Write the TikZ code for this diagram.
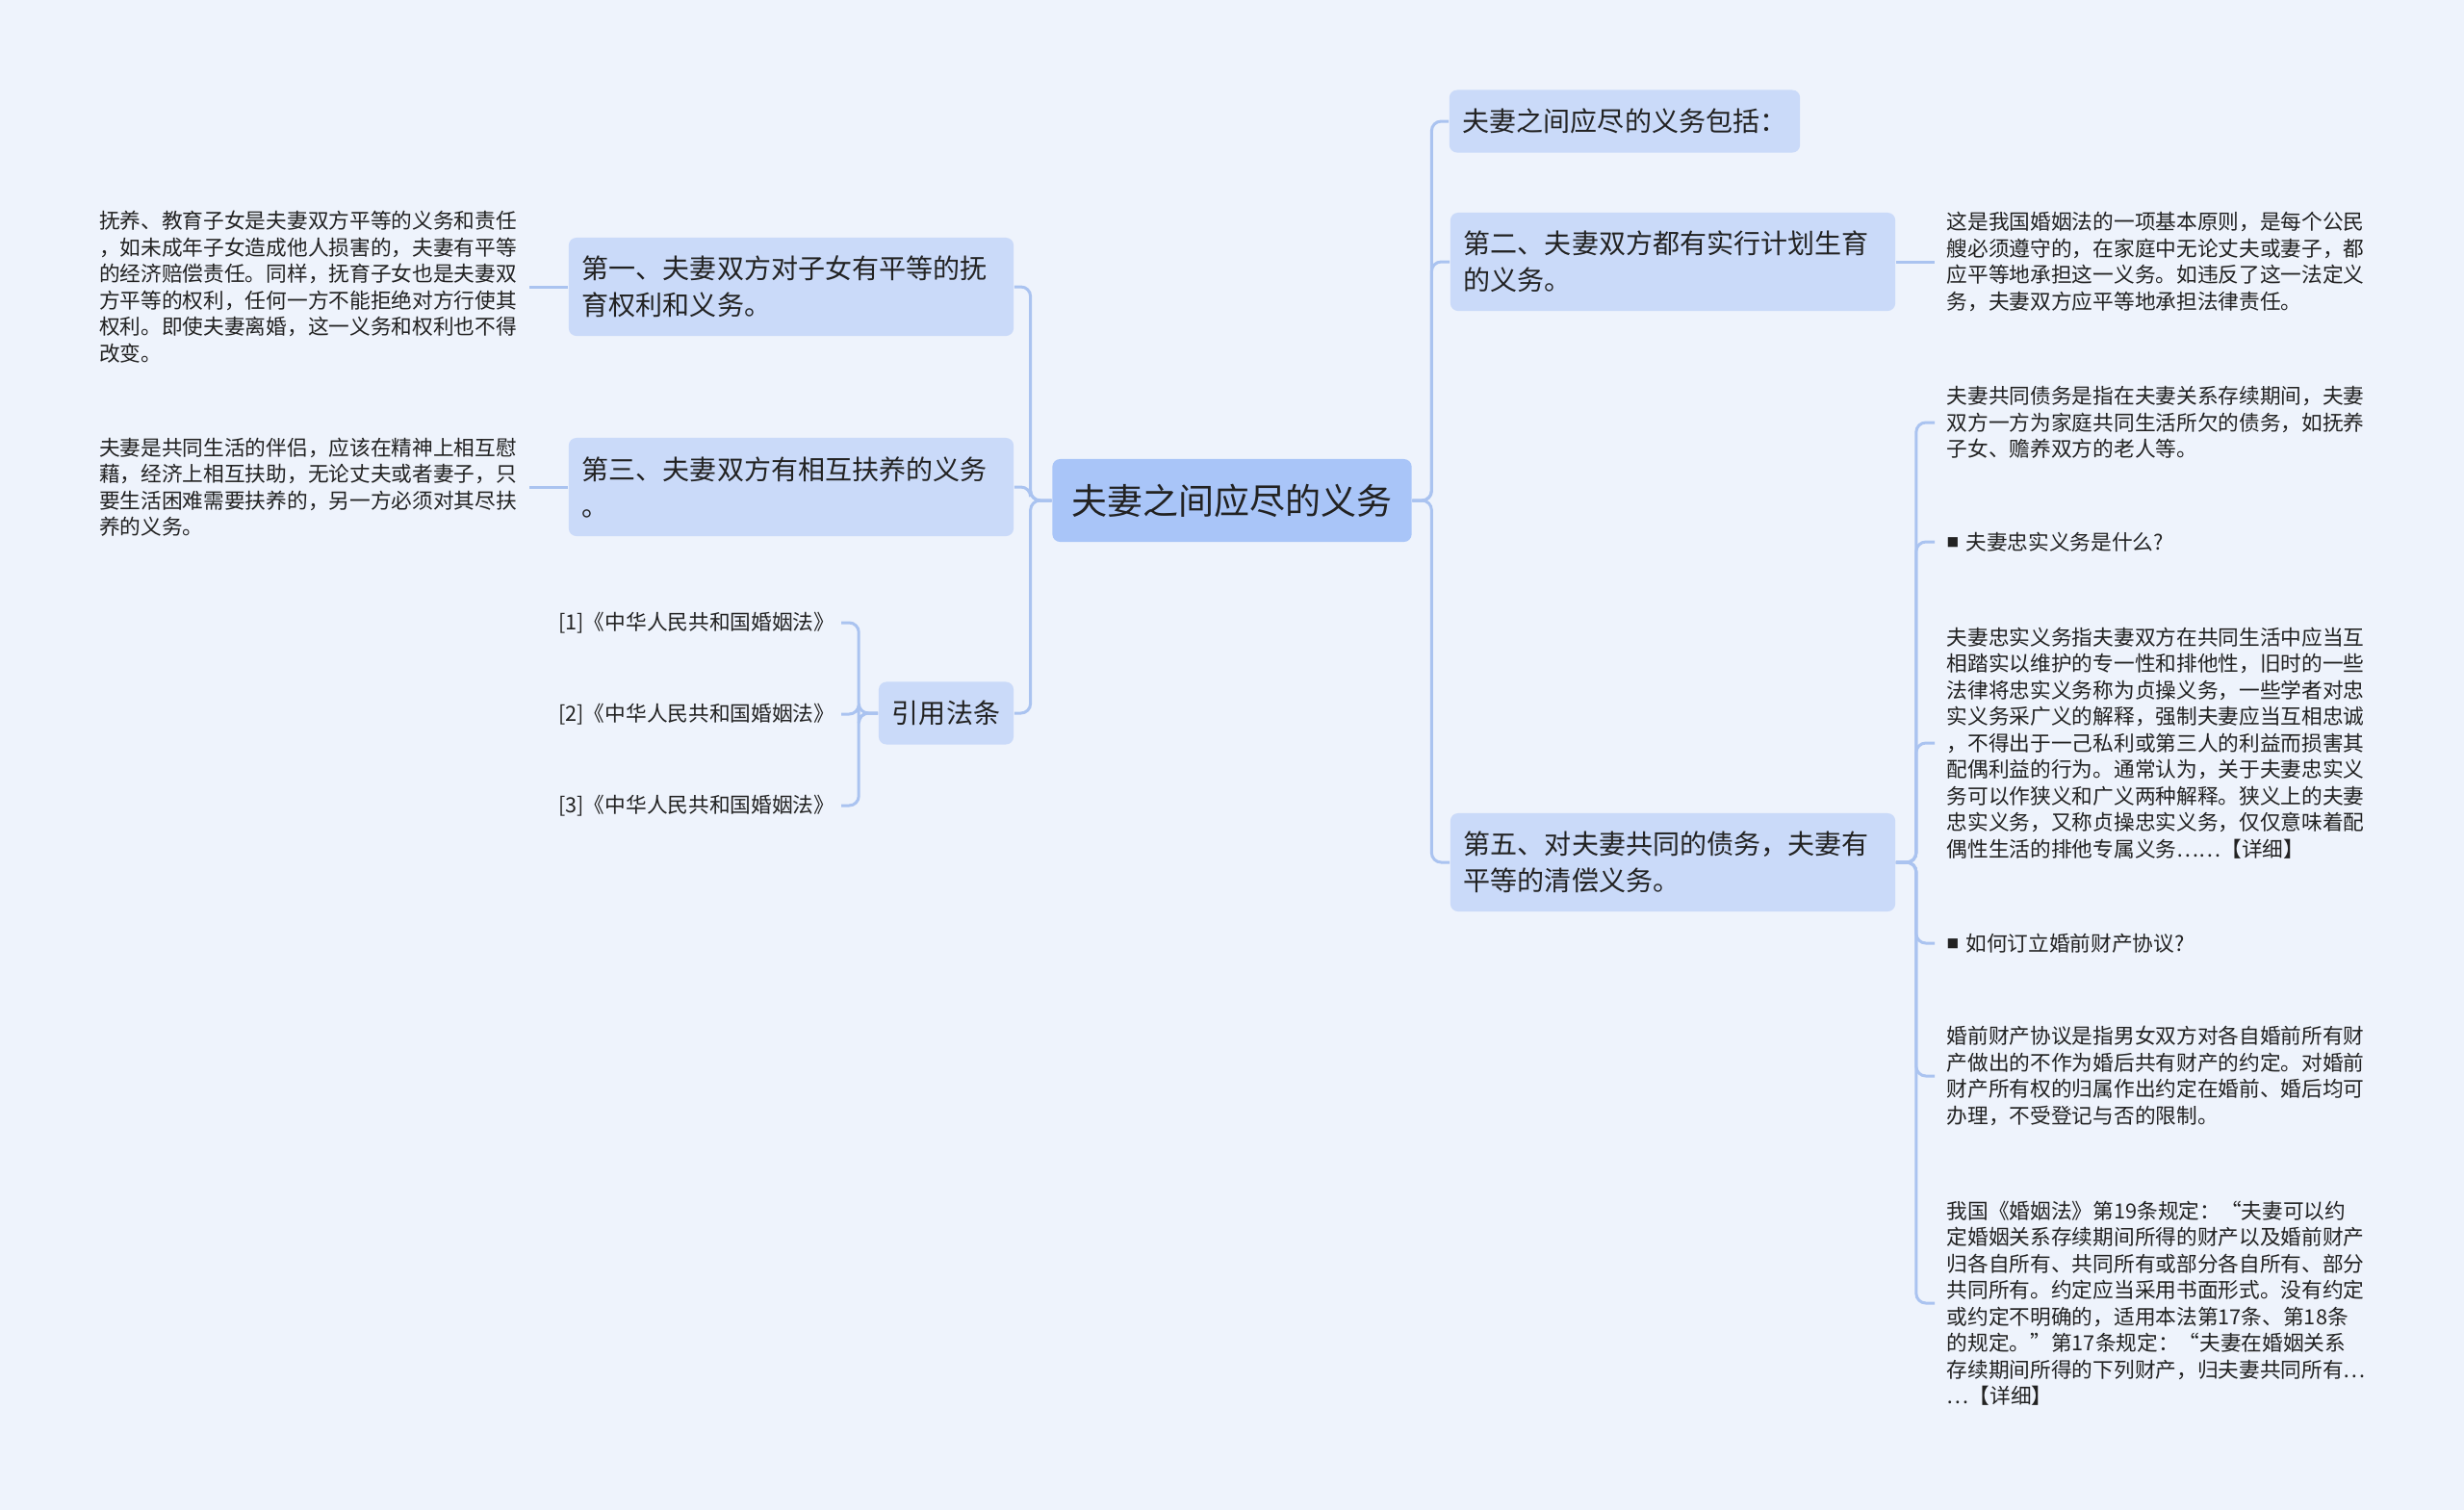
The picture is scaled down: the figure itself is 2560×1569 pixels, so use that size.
\documentclass[tikz,border=0pt]{standalone}
\usepackage{fontspec}
\setmainfont{Noto Sans CJK SC}

\definecolor{bgcol}{RGB}{238,243,252}
\definecolor{rootcol}{RGB}{169,197,248}
\definecolor{topiccol}{RGB}{202,218,249}
\definecolor{linkcol}{RGB}{170,195,240}
\definecolor{inkcol}{RGB}{34,34,34}

\newcommand{\leaffont}{\fontsize{6.17pt}{7.82pt}\selectfont}
\newcommand{\topicfont}{\fontsize{7.97pt}{10.81pt}\selectfont}
\newcommand{\bul}{\raisebox{0.03cm}{\fontsize{3.6pt}{4pt}\selectfont ■}\hspace{0.07cm}}

\tikzset{
    root/.style={fill=rootcol, rounded corners=0.08cm, inner xsep=0.2cm,
        minimum height=0.86cm, text=inkcol, font=\fontsize{10.53pt}{12pt}\selectfont},
    topic/.style={fill=topiccol, rounded corners=0.08cm, inner xsep=0.14cm,
        minimum height=0.65cm, text=inkcol, font=\topicfont},
    wide/.style={topic, text width=4.34cm, align=left, minimum height=1.02cm},
    leaf/.style={text=inkcol, font=\leaffont, inner xsep=0.12cm, inner ysep=0pt, align=left},
    para/.style={leaf, text width=4.34cm},
    link/.style={draw=linkcol, line width=0.03cm, rounded corners=0.1cm},
}

\begin{document}
\begin{tikzpicture}[x=0.01cm,y=-0.01cm]
    \fill[bgcol] (0,0) rectangle (2560,1569);

    \node[root] (root) at (1280,520) {夫妻之间应尽的义务};

    % left side
    \node[wide] (n1) at (822,298) {第一、夫妻双方对子女有平等的抚\\育权利和义务。};
    \node[wide] (n3) at (822,506) {第三、夫妻双方有相互扶养的义务\\。};
    \node[topic] (cite) at (983,741) {引用法条};
    \node[leaf, anchor=east, inner xsep=0.06cm] (r1) at (874,647) {[1]《中华人民共和国婚姻法》};
    \node[leaf, anchor=east, inner xsep=0.06cm] (r2) at (874,742) {[2]《中华人民共和国婚姻法》};
    \node[leaf, anchor=east, inner xsep=0.06cm] (r3) at (874,837) {[3]《中华人民共和国婚姻法》};
    \node[para, anchor=east] (t1) at (550,298) {抚养、教育子女是夫妻双方平等的义务和责任\\，如未成年子女造成他人损害的，夫妻有平等\\的经济赔偿责任。同样，抚育子女也是夫妻双\\方平等的权利，任何一方不能拒绝对方行使其\\权利。即使夫妻离婚，这一义务和权利也不得\\改变。};
    \node[para, anchor=east] (t3) at (550,506) {夫妻是共同生活的伴侣，应该在精神上相互慰\\藉，经济上相互扶助，无论丈夫或者妻子，只\\要生活困难需要扶养的，另一方必须对其尽扶\\养的义务。};

    % right side
    \node[topic] (b0) at (1688,126) {夫妻之间应尽的义务包括：};
    \node[wide] (b2) at (1738,272) {第二、夫妻双方都有实行计划生育\\的义务。};
    \node[wide] (b5) at (1738,896) {第五、对夫妻共同的债务，夫妻有\\平等的清偿义务。};
    \node[para, anchor=west] (t2) at (2010,272) {这是我国婚姻法的一项基本原则，是每个公民\\艘必须遵守的，在家庭中无论丈夫或妻子，都\\应平等地承担这一义务。如违反了这一法定义\\务，夫妻双方应平等地承担法律责任。};
    \node[para, anchor=west] (d1) at (2010,439) {夫妻共同债务是指在夫妻关系存续期间，夫妻\\双方一方为家庭共同生活所欠的债务，如抚养\\子女、赡养双方的老人等。};
    \node[leaf, anchor=west] (q1) at (2010,563) {\bul 夫妻忠实义务是什么?};
    \node[para, anchor=west] (a1) at (2010,772) {夫妻忠实义务指夫妻双方在共同生活中应当互\\相踏实以维护的专一性和排他性，旧时的一些\\法律将忠实义务称为贞操义务，一些学者对忠\\实义务采广义的解释，强制夫妻应当互相忠诚\\，不得出于一己私利或第三人的利益而损害其\\配偶利益的行为。通常认为，关于夫妻忠实义\\务可以作狭义和广义两种解释。狭义上的夫妻\\忠实义务，又称贞操忠实义务，仅仅意味着配\\偶性生活的排他专属义务……【详细】};
    \node[leaf, anchor=west] (q2) at (2010,980) {\bul 如何订立婚前财产协议?};
    \node[para, anchor=west] (a2) at (2010,1118) {婚前财产协议是指男女双方对各自婚前所有财\\产做出的不作为婚后共有财产的约定。对婚前\\财产所有权的归属作出约定在婚前、婚后均可\\办理，不受登记与否的限制。};
    \node[para, anchor=west] (a3) at (2010,1354) {我国《婚姻法》第19条规定：“夫妻可以约\\定婚姻关系存续期间所得的财产以及婚前财产\\归各自所有、共同所有或部分各自所有、部分\\共同所有。约定应当采用书面形式。没有约定\\或约定不明确的，适用本法第17条、第18条\\的规定。”第17条规定：“夫妻在婚姻关系\\存续期间所得的下列财产，归夫妻共同所有…\\…【详细】};

    % connectors
    \draw[link] (root.west) -- ++(-22,0) |- (n1.east);
    \draw[link] (root.west) -- ++(-22,0) |- (n3.east);
    \draw[link] (root.west) -- ++(-22,0) |- (cite.east);
    \draw[link] (n1.west) -- (t1.east);
    \draw[link] (n3.west) -- (t3.east);
    \draw[link] (cite.west) -- ++(-20,0) |- (r1.east);
    \draw[link] (cite.west) -- ++(-20,0) |- (r2.east);
    \draw[link] (cite.west) -- ++(-20,0) |- (r3.east);
    \draw[link] (root.east) -- ++(20,0) |- (b0.west);
    \draw[link] (root.east) -- ++(20,0) |- (b2.west);
    \draw[link] (root.east) -- ++(20,0) |- (b5.west);
    \draw[link] (b2.east) -- (t2.west);
    \draw[link] (b5.east) -- ++(21,0) |- (d1.west);
    \draw[link] (b5.east) -- ++(21,0) |- (q1.west);
    \draw[link] (b5.east) -- ++(21,0) |- (a1.west);
    \draw[link] (b5.east) -- ++(21,0) |- (q2.west);
    \draw[link] (b5.east) -- ++(21,0) |- (a2.west);
    \draw[link] (b5.east) -- ++(21,0) |- (a3.west);
\end{tikzpicture}
\end{document}
